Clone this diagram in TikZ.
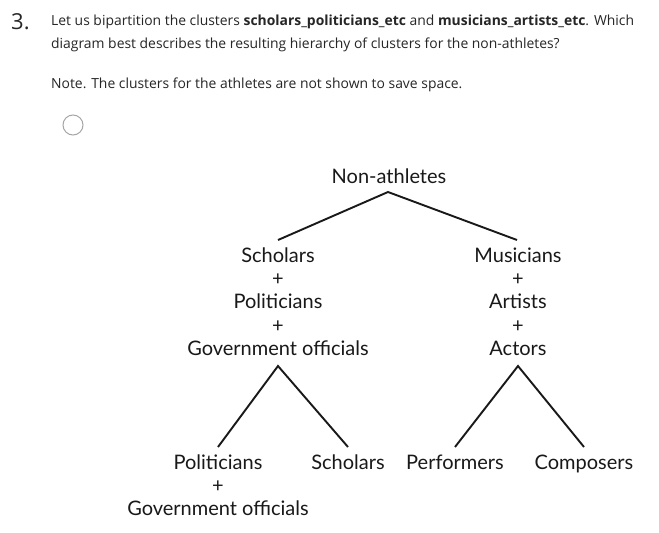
\documentclass[tikz,border=0pt]{standalone}
\usepackage{fontspec}
\setmainfont{Open Sans}
\newfontfamily\labelfont{Lato}
\begin{document}
\begin{tikzpicture}[x=1pt,y=-1pt,
  qtext/.style={anchor=west,inner sep=0pt,text=black!85,font=\fontsize{13.9}{16}\selectfont},
  lbl/.style={inner sep=0pt,text=black!90,font=\labelfont\fontsize{20}{24}\selectfont,
    text height=18pt,text depth=4pt,anchor=center},
  branch/.style={line width=1.9pt,black!90}]
\useasboundingbox[fill=white] (0,0) rectangle (659,533);

% question header
\node[anchor=west,inner sep=0pt,text=black!85,font=\fontsize{22}{24}\selectfont] (num) at (11,22) {3.};
\node[qtext] (q1) at (51,22) {Let us bipartition the clusters \textbf{scholars\_politicians\_etc} and \textbf{musicians\_artists\_etc}. Which};
\node[qtext] (q2) at (51,45) {diagram best describes the resulting hierarchy of clusters for the non-athletes?};
\node[qtext] (note) at (51,85) {Note. The clusters for the athletes are not shown to save space.};
\node[circle,draw=black!35,line width=1pt,minimum size=20pt,inner sep=0pt] (radio) at (73,125) {};

% cluster labels
\node[lbl] (root) at (389,176) {Non-athletes};
\node[lbl] (spg1) at (278,255) {Scholars};
\node[lbl] (spg2) at (278,278) {+};
\node[lbl] (spg3) at (278,301) {Politicians};
\node[lbl] (spg4) at (278,325) {+};
\node[lbl] (spg5) at (278,348) {Government officials};
\node[lbl] (maa1) at (518,255) {Musicians};
\node[lbl] (maa2) at (518,278) {+};
\node[lbl] (maa3) at (518,301) {Artists};
\node[lbl] (maa4) at (518,325) {+};
\node[lbl] (maa5) at (518,348) {Actors};
\node[lbl] (pg1) at (218,462) {Politicians};
\node[lbl] (pg2) at (218,485) {+};
\node[lbl] (pg3) at (218,508) {Government officials};
\node[lbl] (sch) at (348,462) {Scholars};
\node[lbl] (perf) at (455,462) {Performers};
\node[lbl] (comp) at (584,462) {Composers};

% branch end points
\coordinate (rootTop) at (388,192);
\coordinate (spgEnd) at (278,240);
\coordinate (maaEnd) at (517,240);
\coordinate (spgTop) at (278,366);
\coordinate (pgEnd) at (218,447);
\coordinate (schEnd) at (348,447);
\coordinate (maaTop) at (518,366);
\coordinate (perfEnd) at (455,447);
\coordinate (compEnd) at (584,447);

% branches
\draw[branch] (spgEnd) -- (rootTop) -- (maaEnd);
\draw[branch] (pgEnd) -- (spgTop) -- (schEnd);
\draw[branch] (perfEnd) -- (maaTop) -- (compEnd);
\end{tikzpicture}
\end{document}
